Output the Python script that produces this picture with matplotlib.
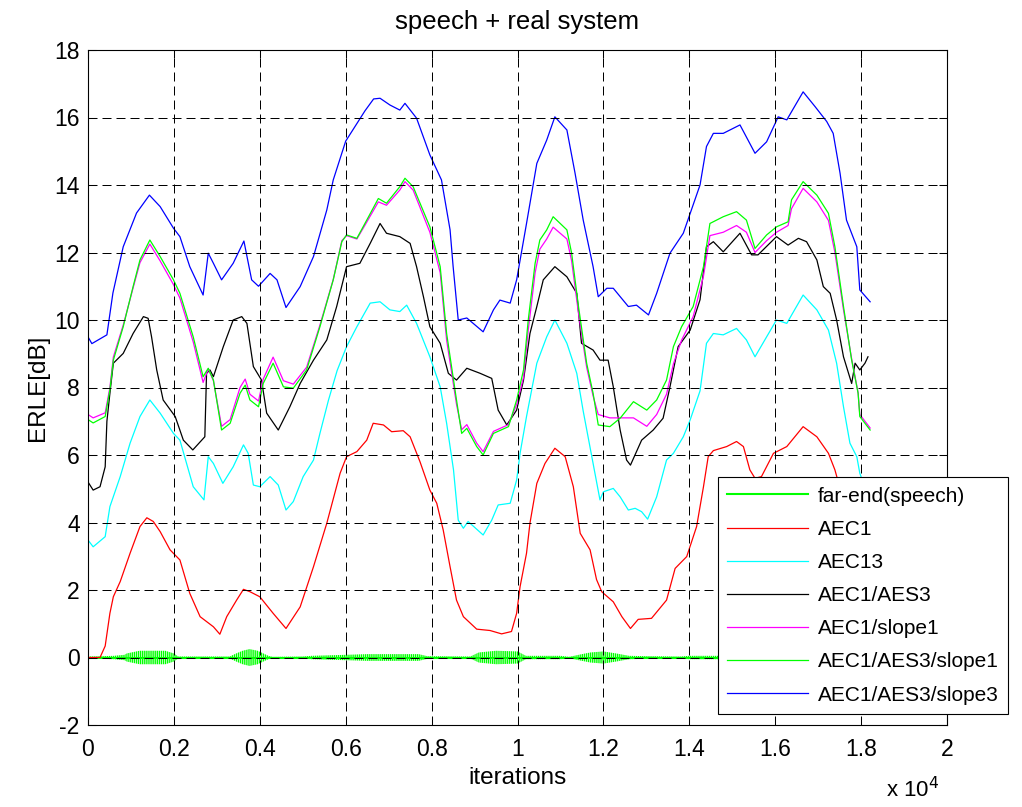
import numpy as np
import matplotlib
matplotlib.use("Agg")
import matplotlib.pyplot as plt

plt.rcParams['font.family'] = ['Liberation Sans', 'DejaVu Sans']
plt.rcParams['axes.unicode_minus'] = False

# x values are in units of 10^4 iterations
speech_x = [0, 0.03, 0.06, 0.085, 0.09, 0.12, 0.15, 0.18, 0.2, 0.21, 0.33, 0.345, 0.36, 0.376,
            0.395, 0.42, 0.43, 0.5, 0.52, 0.6, 0.65, 0.7, 0.77, 0.79, 0.89, 0.91, 0.95, 1.0,
            1.02, 1.1, 1.12, 1.15, 1.17, 1.2, 1.23, 1.26, 1.3, 1.38, 1.4, 1.47, 1.6, 1.7, 1.82]
speech_amp = [0.03, 0.04, 0.05, 0.08, 0.12, 0.2, 0.2, 0.2, 0.12, 0.03, 0.03, 0.12, 0.2, 0.25,
              0.2, 0.05, 0.02, 0.03, 0.05, 0.08, 0.1, 0.1, 0.1, 0.04, 0.03, 0.15, 0.2, 0.18,
              0.05, 0.05, 0.02, 0.1, 0.15, 0.18, 0.12, 0.05, 0.04, 0.03, 0.05, 0.05, 0.05, 0.05, 0.05]

aec1_x = [0, 0.028, 0.04, 0.051, 0.059, 0.075, 0.098, 0.121, 0.137, 0.152, 0.168, 0.191, 0.214,
          0.237, 0.261, 0.292, 0.307, 0.323, 0.346, 0.362, 0.377, 0.4, 0.431, 0.461, 0.494,
          0.525, 0.556, 0.587, 0.602, 0.626, 0.649, 0.664, 0.688, 0.707, 0.734, 0.75, 0.773,
          0.796, 0.812, 0.827, 0.843, 0.858, 0.874, 0.905, 0.936, 0.963, 0.986, 0.998, 1.006,
          1.021, 1.029, 1.045, 1.064, 1.087, 1.111, 1.13, 1.146, 1.169, 1.184, 1.196, 1.223,
          1.243, 1.263, 1.281, 1.312, 1.347, 1.367, 1.394, 1.417, 1.433, 1.444, 1.456, 1.487,
          1.51, 1.526, 1.541, 1.553, 1.568, 1.596, 1.627, 1.665, 1.697, 1.724, 1.739, 1.76,
          1.79, 1.82]
aec1_y = [0, 0, 0.34, 1.31, 1.8, 2.25, 3.09, 3.88, 4.14, 4.03, 3.73, 3.19, 2.89, 1.9, 1.21,
          0.91, 0.69, 1.21, 1.7, 2.02, 1.95, 1.8, 1.31, 0.86, 1.5, 2.69, 3.98, 5.46, 5.95,
          6.1, 6.44, 6.94, 6.89, 6.69, 6.72, 6.54, 5.8, 4.96, 4.57, 3.78, 2.69, 1.7, 1.21,
          0.84, 0.8, 0.7, 0.77, 1.31, 2.1, 3.09, 3.98, 5.16, 5.75, 6.2, 5.95, 5.06, 3.68,
          3.19, 2.31, 1.95, 1.65, 1.21, 0.86, 1.13, 1.16, 1.7, 2.64, 2.99, 3.88, 5.06, 5.95,
          6.13, 6.25, 6.4, 6.25, 5.56, 5.31, 5.36, 6.05, 6.25, 6.84, 6.54, 6.05, 5.56, 4.6,
          3.5, 2.6]

aec13_x = [0, 0.012, 0.04, 0.051, 0.075, 0.098, 0.121, 0.144, 0.168, 0.199, 0.214, 0.245,
           0.27, 0.28, 0.292, 0.314, 0.338, 0.362, 0.373, 0.385, 0.4, 0.424, 0.443, 0.461,
           0.478, 0.501, 0.525, 0.54, 0.56, 0.58, 0.602, 0.626, 0.657, 0.68, 0.703, 0.726,
           0.742, 0.765, 0.796, 0.82, 0.835, 0.851, 0.862, 0.874, 0.885, 0.92, 0.94, 0.955,
           0.983, 0.998, 1.006, 1.021, 1.045, 1.068, 1.087, 1.115, 1.138, 1.153, 1.176,
           1.192, 1.2, 1.223, 1.239, 1.258, 1.274, 1.289, 1.303, 1.324, 1.347, 1.363, 1.386,
           1.402, 1.425, 1.44, 1.456, 1.479, 1.51, 1.533, 1.553, 1.58, 1.603, 1.627, 1.665,
           1.697, 1.724, 1.743, 1.759, 1.774, 1.79, 1.797, 1.821]
aec13_y = [3.48, 3.28, 3.58, 4.47, 5.36, 6.35, 7.14, 7.63, 7.24, 6.64, 6.44, 5.06, 4.67,
           5.95, 5.75, 5.16, 5.65, 6.3, 6.05, 5.11, 5.06, 5.36, 5.11, 4.37, 4.62, 5.36, 5.85,
           6.64, 7.63, 8.5, 9.21, 9.8, 10.5, 10.54, 10.3, 10.25, 10.44, 9.9, 8.91, 8.02,
           6.94, 5.56, 4.07, 3.83, 4.03, 3.63, 4.07, 4.52, 4.57, 5.26, 6.05, 7.14, 8.72, 9.5,
           10.0, 9.31, 8.42, 7.3, 5.75, 4.67, 4.91, 5.01, 4.76, 4.37, 4.42, 4.32, 4.1, 4.76,
           5.85, 6.05, 6.54, 7.04, 7.9, 9.31, 9.6, 9.56, 9.75, 9.41, 8.91, 9.5, 10.0, 9.9,
           10.74, 10.3, 9.7, 8.72, 7.43, 6.35, 5.95, 5.46, 4.6]

aes3_x = [0, 0.012, 0.028, 0.04, 0.044, 0.051, 0.059, 0.082, 0.105, 0.129, 0.14, 0.148, 0.16,
          0.175, 0.203, 0.222, 0.244, 0.272, 0.276, 0.284, 0.292, 0.315, 0.338, 0.358, 0.37,
          0.385, 0.404, 0.416, 0.443, 0.47, 0.494, 0.525, 0.556, 0.579, 0.602, 0.633, 0.657,
          0.68, 0.695, 0.726, 0.75, 0.765, 0.781, 0.796, 0.82, 0.839, 0.858, 0.882, 0.913,
          0.94, 0.955, 0.975, 0.998, 1.014, 1.029, 1.045, 1.06, 1.087, 1.115, 1.138, 1.149,
          1.176, 1.192, 1.211, 1.223, 1.239, 1.254, 1.263, 1.289, 1.316, 1.339, 1.355, 1.374,
          1.402, 1.425, 1.44, 1.456, 1.479, 1.518, 1.545, 1.56, 1.603, 1.63, 1.654, 1.673,
          1.697, 1.712, 1.728, 1.743, 1.759, 1.778, 1.786, 1.797, 1.809, 1.816]
aes3_y = [5.2, 4.96, 5.06, 5.65, 7.0, 7.83, 8.72, 9.01, 9.6, 10.1, 10.05, 9.5, 8.52, 7.63,
          7.14, 6.44, 6.15, 6.54, 8.42, 8.52, 8.32, 9.21, 10.0, 10.1, 9.9, 8.62, 8.22, 7.24,
          6.74, 7.43, 8.12, 8.81, 9.41, 10.4, 11.58, 11.68, 12.27, 12.86, 12.57, 12.47,
          12.27, 11.58, 10.69, 9.8, 9.31, 8.42, 8.22, 8.57, 8.42, 8.27, 7.33, 6.89, 7.33,
          8.22, 9.6, 10.4, 11.19, 11.58, 11.28, 10.79, 9.31, 9.11, 8.81, 8.81, 8.02, 6.74,
          5.85, 5.7, 6.44, 6.74, 7.09, 8.02, 9.21, 9.7, 10.6, 12.17, 12.32, 12.02, 12.57,
          11.93, 11.93, 12.47, 12.22, 12.42, 12.32, 11.78, 10.99, 10.79, 10.0, 8.91, 8.12,
          8.72, 8.52, 8.72, 8.91]

slope_x = [0, 0.012, 0.04, 0.051, 0.059, 0.082, 0.105, 0.121, 0.144, 0.168, 0.199, 0.214,
           0.245, 0.268, 0.28, 0.292, 0.311, 0.331, 0.354, 0.366, 0.377, 0.397, 0.408, 0.431,
           0.455, 0.478, 0.509, 0.54, 0.571, 0.591, 0.602, 0.626, 0.649, 0.676, 0.695, 0.726,
           0.738, 0.757, 0.796, 0.82, 0.835, 0.858, 0.87, 0.882, 0.905, 0.92, 0.944, 0.979,
           0.998, 1.014, 1.025, 1.041, 1.052, 1.068, 1.083, 1.115, 1.126, 1.142, 1.161, 1.176,
           1.188, 1.215, 1.239, 1.27, 1.301, 1.324, 1.347, 1.363, 1.382, 1.409, 1.433, 1.448,
           1.479, 1.51, 1.533, 1.553, 1.58, 1.603, 1.63, 1.638, 1.665, 1.697, 1.724, 1.739,
           1.759, 1.778, 1.793, 1.797, 1.821]
aes3_slope1_y = [7.05, 6.95, 7.14, 7.93, 8.81, 9.8, 10.99, 11.78, 12.37, 11.88, 11.19, 10.79,
                 9.5, 8.32, 8.57, 8.22, 6.74, 6.94, 7.83, 8.07, 7.63, 7.43, 8.12, 8.72, 8.02,
                 7.98, 8.52, 9.8, 11.19, 12.32, 12.52, 12.42, 12.96, 13.6, 13.46, 13.95, 14.2,
                 13.95, 12.76, 11.58, 9.6, 7.63, 6.64, 6.79, 6.25, 6.0, 6.64, 6.84, 7.63, 8.52,
                 10.0, 11.68, 12.37, 12.67, 13.06, 12.67, 11.98, 10.4, 8.72, 7.83, 6.89, 6.84,
                 7.09, 7.58, 7.33, 7.63, 8.22, 9.21, 9.8, 10.4, 11.58, 12.86, 13.06, 13.21,
                 12.96, 12.12, 12.52, 12.76, 12.91, 13.56, 14.1, 13.7, 13.16, 12.17, 10.4,
                 8.81, 7.83, 7.14, 6.74]
slope1_y = [7.2, 7.1, 7.25, 8.0, 8.9, 9.85, 10.95, 11.7, 12.25, 11.75, 11.05, 10.65, 9.35,
            8.15, 8.55, 8.2, 6.85, 7.05, 8.0, 8.25, 7.8, 7.6, 8.25, 8.9, 8.2, 8.1, 8.6, 9.85,
            11.2, 12.35, 12.5, 12.4, 12.9, 13.5, 13.4, 13.85, 14.1, 13.85, 12.6, 11.4, 9.4,
            7.5, 6.75, 6.9, 6.35, 6.1, 6.7, 6.9, 7.5, 8.3, 9.7, 11.4, 12.1, 12.4, 12.75, 12.4,
            11.75, 10.2, 8.6, 7.75, 7.2, 7.1, 7.1, 7.1, 6.85, 7.2, 7.8, 8.7, 9.4, 10.1, 11.3,
            12.5, 12.6, 12.8, 12.6, 12.0, 12.35, 12.6, 12.8, 13.3, 13.9, 13.5, 12.95, 12.0,
            10.3, 8.85, 7.85, 7.2, 6.8]

slope3_x = [0, 0.009, 0.044, 0.058, 0.082, 0.113, 0.143, 0.168, 0.199, 0.214, 0.237, 0.268,
            0.28, 0.292, 0.311, 0.338, 0.363, 0.381, 0.397, 0.424, 0.44, 0.461, 0.494, 0.525,
            0.556, 0.571, 0.6, 0.625, 0.645, 0.665, 0.68, 0.703, 0.726, 0.738, 0.765, 0.796,
            0.823, 0.843, 0.85, 0.862, 0.882, 0.92, 0.944, 0.959, 0.983, 0.998, 1.021, 1.045,
            1.068, 1.087, 1.115, 1.134, 1.153, 1.176, 1.188, 1.208, 1.223, 1.258, 1.277,
            1.305, 1.324, 1.355, 1.386, 1.425, 1.44, 1.456, 1.479, 1.518, 1.553, 1.58, 1.607,
            1.627, 1.665, 1.693, 1.72, 1.735, 1.751, 1.766, 1.79, 1.797, 1.821]
slope3_y = [9.5, 9.3, 9.56, 10.8, 12.17, 13.17, 13.7, 13.36, 12.72, 12.47, 11.58, 10.74,
            11.98, 11.68, 11.19, 11.68, 12.34, 11.19, 11.0, 11.38, 11.19, 10.37, 10.99, 11.88,
            13.26, 14.15, 15.3, 15.8, 16.2, 16.55, 16.57, 16.37, 16.22, 16.42, 15.98, 14.89,
            14.15, 12.67, 11.6, 10.0, 10.06, 9.65, 10.3, 10.59, 10.5, 11.19, 12.86, 14.64,
            15.33, 16.02, 15.63, 14.35, 12.96, 11.58, 10.69, 10.94, 10.94, 10.4, 10.44, 10.15,
            10.79, 11.98, 12.57, 14.0, 15.14, 15.53, 15.53, 15.78, 14.94, 15.28, 16.02, 15.93,
            16.76, 16.32, 15.88, 15.53, 14.35, 12.96, 12.17, 10.89, 10.54]

x_ticks = [0, 0.2, 0.4, 0.6, 0.8, 1, 1.2, 1.4, 1.6, 1.8, 2]
x_tick_labels = ['0', '0.2', '0.4', '0.6', '0.8', '1', '1.2', '1.4', '1.6', '1.8', '2']
y_ticks = list(range(-2, 19, 2))

fig = plt.figure(figsize=(10.22, 8.07), dpi=100)
ax = fig.add_axes([88/1022, 82/807, 859/1022, 675/807])

green = (0, 1, 0)
sx = np.array(speech_x)
sa = np.array(speech_amp)
ax.fill_between(sx, -sa, sa, facecolor='none', edgecolor=green, hatch='||||||||', linewidth=0)
ax.plot(sx, np.zeros_like(sx), color=green, lw=1.5, label='far-end(speech)')
ax.plot(aec1_x, aec1_y, color='red', lw=0.9, label='AEC1')
ax.plot(aec13_x, aec13_y, color='cyan', lw=0.9, label='AEC13')
ax.plot(aes3_x, aes3_y, color='black', lw=0.9, label='AEC1/AES3')
ax.plot(slope_x, slope1_y, color='magenta', lw=0.9, label='AEC1/slope1')
ax.plot(slope_x, aes3_slope1_y, color=green, lw=0.9, label='AEC1/AES3/slope1')
ax.plot(slope3_x, slope3_y, color='blue', lw=0.9, label='AEC1/AES3/slope3')

ax.set_xlim(0, 2)
ax.set_ylim(-2, 18)
ax.set_xticks(x_ticks)
ax.set_xticklabels(x_tick_labels)
ax.set_yticks(y_ticks)
ax.tick_params(direction='in', top=True, right=True, length=6, width=0.75,
               labelsize=16.5, pad=6)
ax.tick_params(axis='x', pad=9)
for s in ax.spines.values():
    s.set_linewidth(0.8)
ax.set_axisbelow(False)
ax.grid(True, color='black', linestyle=(0, (9, 5)), linewidth=0.72)

ax.set_title('speech + real system', fontsize=18.5, pad=15)
ax.set_xlabel('iterations', fontsize=17.5, labelpad=5)
ax.set_ylabel('ERLE[dB]', fontsize=17.5, labelpad=4)
fig.text(886/1022, 1 - 790/807, 'x 10$^{4}$', fontsize=16, ha='left', va='center')

leg = ax.legend(loc='upper left', bbox_to_anchor=(0.733, 0.367), borderaxespad=0,
                fontsize=15, handlelength=3.9, handletextpad=0.45, labelspacing=0.68,
                fancybox=False, framealpha=1, edgecolor='black', borderpad=0.45)
leg.get_frame().set_linewidth(0.8)

fig.savefig('out.png', dpi=100)
